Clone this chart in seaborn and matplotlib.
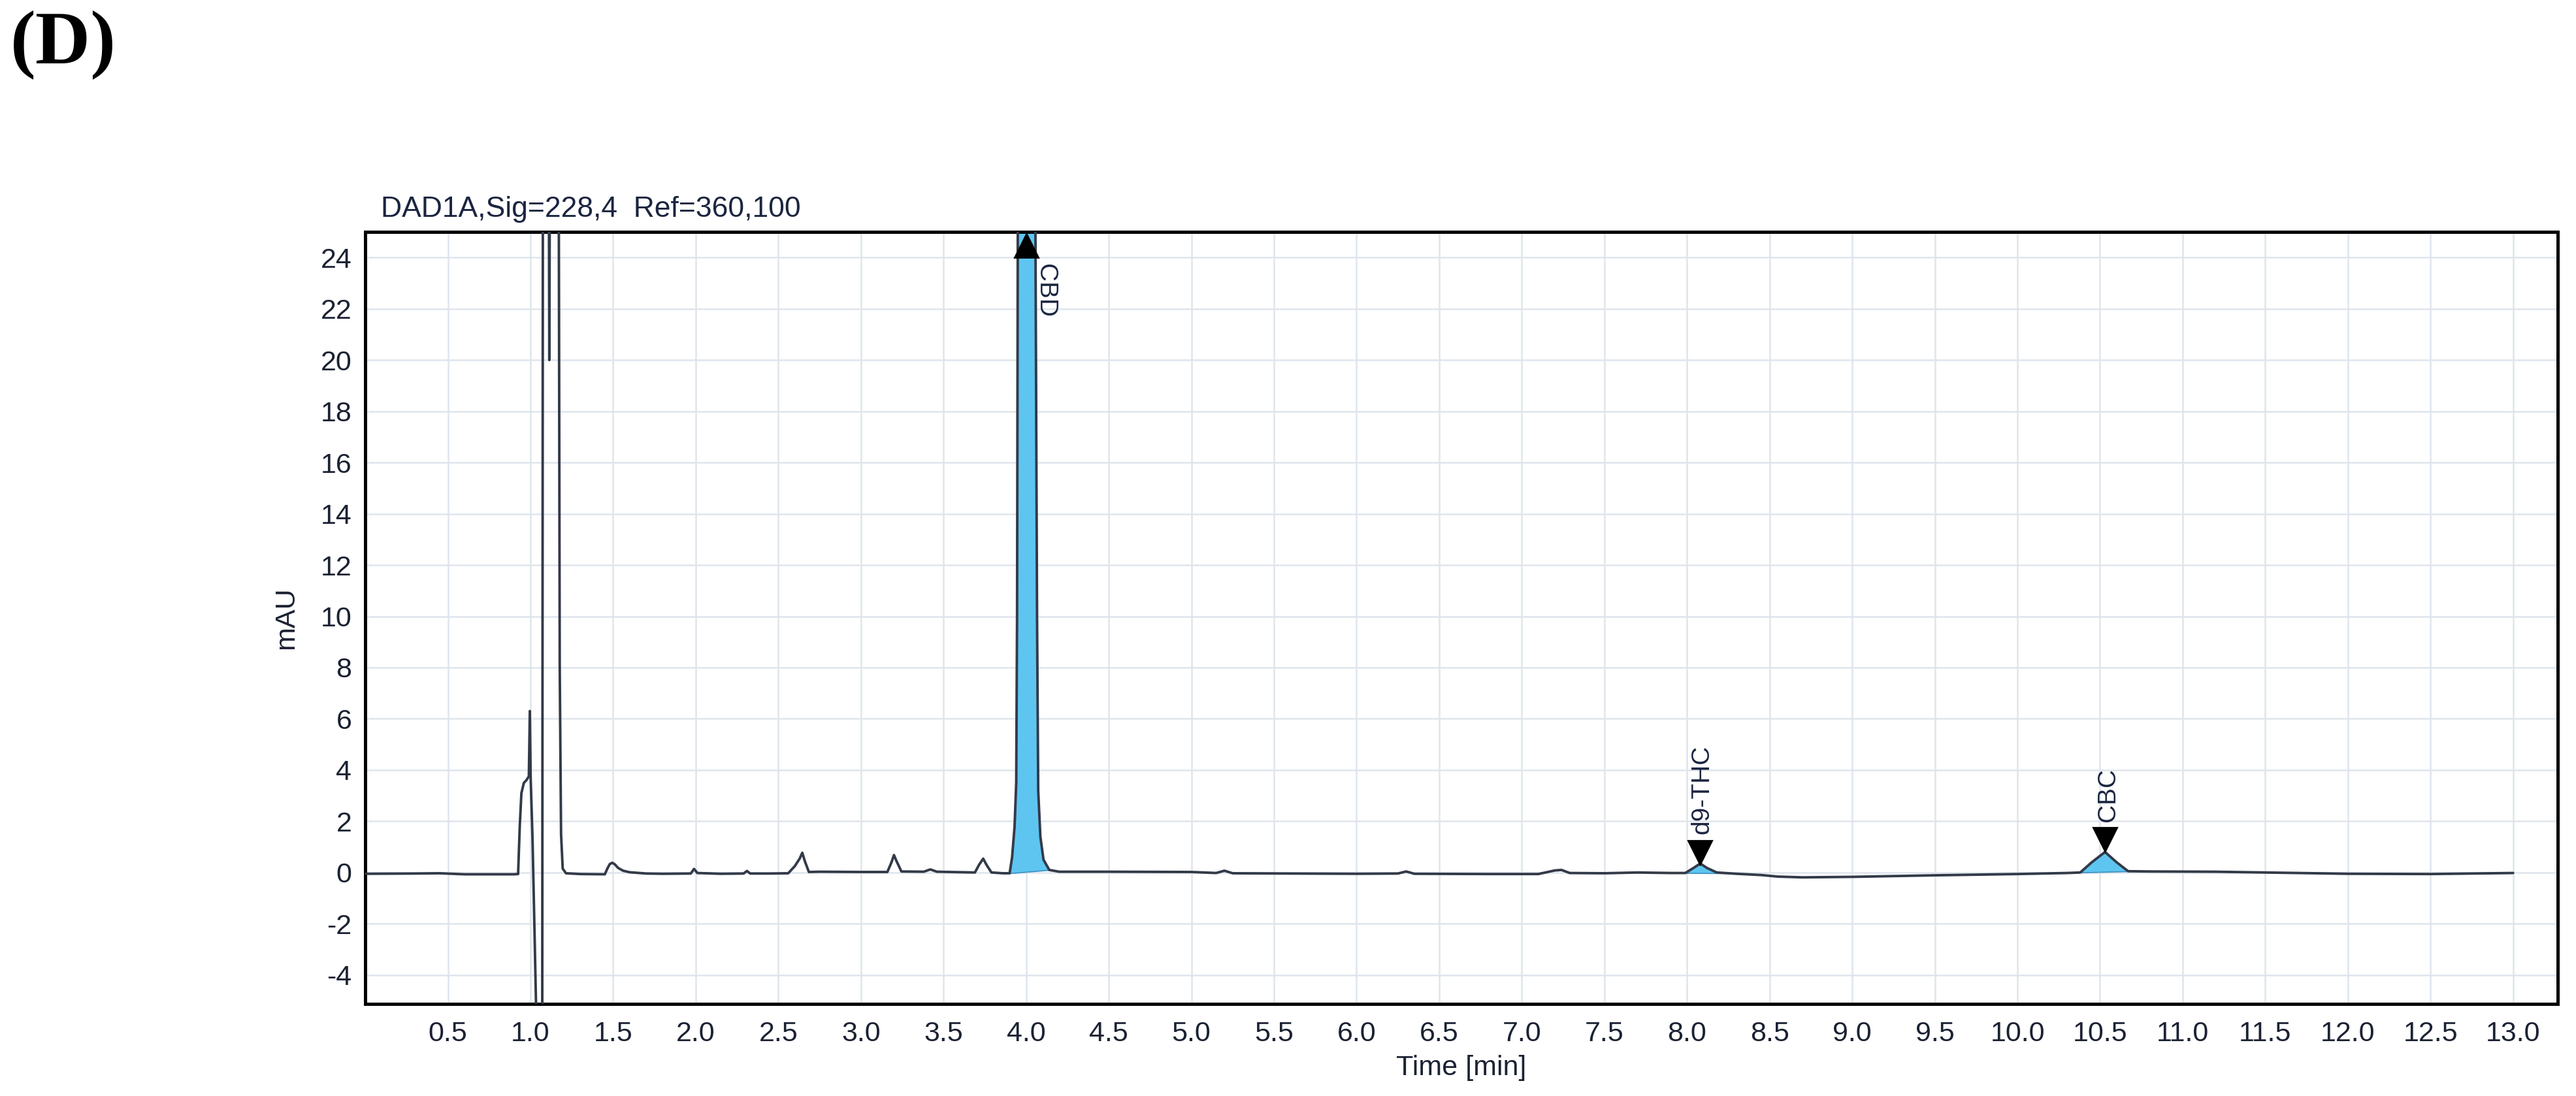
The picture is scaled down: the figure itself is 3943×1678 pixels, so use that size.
import numpy as np
import pandas as pd
import seaborn as sns
import matplotlib
matplotlib.use("Agg")
import matplotlib.pyplot as plt

# chromatogram trace (time [min], signal [mAU])
trace_time = [
	0.00, 0.30, 0.45, 0.60, 0.90, 0.925, 0.935, 0.945, 0.96, 0.975, 0.99, 0.996, 1.001, 1.012,
	1.024, 1.035, 1.05, 1.071, 1.075, 1.111, 1.114, 1.117, 1.171, 1.177, 1.185, 1.195, 1.215,
	1.300, 1.450, 1.465, 1.480, 1.495, 1.510, 1.530, 1.560, 1.600, 1.700, 1.800, 1.970, 1.990,
	2.010, 2.150, 2.290, 2.310, 2.330, 2.450, 2.560, 2.600, 2.630, 2.645, 2.660, 2.685, 2.750,
	3.000, 3.160, 3.185, 3.200, 3.215, 3.245, 3.380, 3.420, 3.460, 3.690, 3.715, 3.740, 3.760,
	3.790, 3.860, 3.900, 3.915, 3.930, 3.940, 3.945, 3.950, 4.055, 4.066, 4.073, 4.086, 4.105,
	4.140, 4.200, 4.500, 5.000, 5.150, 5.200, 5.250, 5.600, 6.000, 6.250, 6.300, 6.350, 6.800,
	7.100, 7.200, 7.240, 7.290, 7.500, 7.700, 7.900, 7.990, 8.040, 8.080, 8.120, 8.180, 8.300,
	8.450, 8.550, 8.700, 9.000, 9.500, 10.000, 10.300, 10.380, 10.450, 10.530, 10.600, 10.670,
	10.800, 11.200, 11.500, 12.000, 12.500, 13.000,
]
trace_mau = [
	-0.05, -0.04, -0.03, -0.07, -0.07, -0.06, 1.8, 3.1, 3.5, 3.6, 3.75, 6.3, 3.7, 1.4,
	-2.2, -5.6, -7.0, -7.0, 27.0, 27.0, 20.0, 27.0, 27.0, 8.0, 1.5, 0.15, -0.03,
	-0.06, -0.07, 0.15, 0.33, 0.38, 0.32, 0.18, 0.07, 0.01, -0.04, -0.05, -0.04, 0.14,
	-0.02, -0.05, -0.04, 0.06, -0.04, -0.04, -0.03, 0.25, 0.55, 0.77, 0.45, 0.02, 0.03,
	0.02, 0.02, 0.40, 0.68, 0.45, 0.04, 0.03, 0.12, 0.03, 0.00, 0.30, 0.54, 0.30,
	0.00, -0.03, -0.03, 0.6, 1.8, 3.5, 10.0, 27.0, 27.0, 10.0, 3.2, 1.4, 0.5,
	0.10, 0.03, 0.03, 0.02, -0.02, 0.07, -0.03, -0.04, -0.05, -0.04, 0.04, -0.05, -0.06,
	-0.06, 0.08, 0.10, -0.02, -0.03, 0.00, -0.02, -0.02, 0.18, 0.35, 0.18, 0.00, -0.05,
	-0.10, -0.16, -0.19, -0.17, -0.11, -0.06, -0.02, 0.00, 0.40, 0.80, 0.40, 0.05,
	0.04, 0.03, 0.00, -0.05, -0.06, -0.02,
]

# integrated peaks
peak_names = ["CBD", "d9-THC", "CBC"]
peak_apex = [4.00, 8.08, 10.53]
peak_start = [3.90, 7.99, 10.38]
peak_end = [4.14, 8.25, 10.68]

x_ticks = np.arange(0.5, 13.01, 0.5)
y_ticks = np.arange(-4, 25, 2)

sns.set_style("white")
plt.rcParams["font.family"] = ["Liberation Sans", "DejaVu Sans"]

fig = plt.figure(figsize=(3943 / 200, 1678 / 200), dpi=200)
ax = fig.add_axes([0.1418, 0.084, 0.8511, 0.7044])

df = pd.DataFrame({"time": trace_time, "mAU": trace_mau})
t = df["time"].to_numpy()
s = df["mAU"].to_numpy()

# shaded peak areas between the trace and a drop line from start to end
for start, end in zip(peak_start, peak_end):
	inside = (t > start) & (t < end)
	xs = np.concatenate([[start], t[inside], [end]])
	ys = np.concatenate([[np.interp(start, t, s)], s[inside], [np.interp(end, t, s)]])
	base = np.interp(xs, [start, end], [ys[0], ys[-1]])
	ax.fill_between(xs, base, ys, color="#5ec5f1", lw=0.6, edgecolor="#3d8fc0", zorder=2)

sns.lineplot(data=df, x="time", y="mAU", estimator=None, sort=False,
			 color="#333a48", lw=1.4, ax=ax, zorder=3)

# peak markers and names
label_color = "#1b2540"
ax.plot(peak_apex[0], 24.47, marker="^", ms=13, color="black", zorder=4)
ax.text(4.115, 23.75, peak_names[0], rotation=-90, ha="center", va="top",
		fontsize=14, color=label_color)
ax.plot(peak_apex[1], 0.79, marker="v", ms=13, color="black", zorder=4)
ax.text(8.09, 1.5, peak_names[1], rotation=90, ha="center", va="bottom",
		fontsize=14, color=label_color)
ax.plot(peak_apex[2], 1.30, marker="v", ms=13, color="black", zorder=4)
ax.text(10.55, 1.98, peak_names[2], rotation=90, ha="center", va="bottom",
		fontsize=14, color=label_color)

ax.set_xlim(0, 13.27)
ax.set_ylim(-5.13, 25)
ax.set_xticks(x_ticks)
ax.set_xticklabels([f"{v:.1f}" for v in x_ticks])
ax.set_yticks(y_ticks)
ax.set_yticklabels([f"{v:d}" for v in y_ticks])

ax.grid(True, color="#dfe5ec", lw=0.9)
ax.set_axisbelow(True)
ax.tick_params(axis="both", direction="out", length=6.5, width=1.4, color="black",
			   labelsize=15.5, labelcolor="#1b2233", pad=3)
ax.tick_params(axis="y", pad=1)
for _, spine in ax.spines.items():
	spine.set_visible(True)
	spine.set_color("black")
	spine.set_linewidth(1.8)

ax.set_xlabel("Time [min]", fontsize=15.5, color="#1b2233", labelpad=4)
ax.set_ylabel("mAU", fontsize=15.5, color="#1b2233")
ax.yaxis.set_label_coords(-0.03, 0.5)

ax.text(0.007, 1.012, "DAD1A,Sig=228,4  Ref=360,100", transform=ax.transAxes,
		fontsize=16, color=label_color, va="bottom", ha="left")
fig.text(0.004, 0.991, "(D)", fontsize=42, fontweight="bold", va="top", ha="left",
		 color="black", family=["Liberation Serif", "DejaVu Serif"])

fig.savefig("out.png", dpi=200)
